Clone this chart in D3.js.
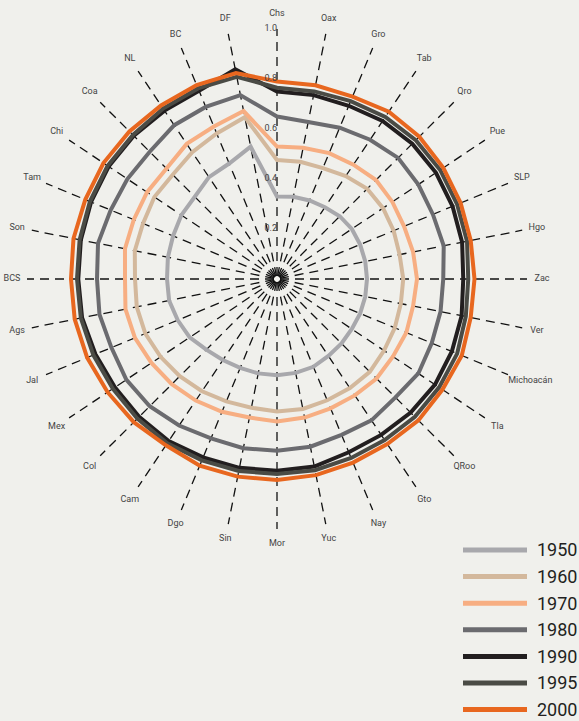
<!DOCTYPE html>
<html>
<head>
<meta charset="utf-8">
<script src="https://cdn.jsdelivr.net/npm/d3@7"></script>
<style>
  body { margin: 0; background: #f0f0ec; }
  svg { display: block; }
</style>
</head>
<body>
<div id="main"></div>
<script>
// states, clockwise from the top
const states = ["Chs", "Oax", "Gro", "Tab", "Qro", "Pue", "SLP", "Hgo", "Zac", "Ver", "Michoacán", "Tla",
    "QRoo", "Gto", "Nay", "Yuc", "Mor", "Sin", "Dgo", "Cam", "Col", "Mex", "Jal", "Ags",
    "BCS", "Son", "Tam", "Chi", "Coa", "NL", "BC", "DF"];
const years = ["1950", "1960", "1970", "1980", "1990", "1995", "2000"];
const ticks = [0.2, 0.4, 0.6, 0.8, 1.0];

const v1950 = [.33, .335, .34, .345, .355, .36, .36, .36, .36, .36, .36, .36, .365, .37, .38, .383,
    .385, .385, .385, .39, .40, .42, .43, .44, .44, .445, .45, .46, .465, .49, .50, .54];
const v1960 = [.476, .478, .48, .495, .51, .51, .505, .50, .505, .505, .51, .515, .525, .525, .525, .53,
    .53, .525, .53, .54, .55, .56, .57, .572, .568, .58, .58, .59, .59, .61, .63, .66];
const v1970 = [.53, .535, .545, .55, .56, .555, .55, .555, .56, .555, .56, .558, .563, .56, .56, .565,
    .57, .565, .575, .585, .595, .604, .615, .618, .608, .62, .62, .625, .625, .65, .66, .685];
const v1980 = [.65, .64, .655, .67, .685, .68, .675, .68, .665, .667, .67, .68, .67, .68, .675, .684,
    .687, .69, .69, .705, .72, .725, .717, .724, .72, .73, .72, .72, .72, .74, .745, .75];
const v1990 = [.75, .75, .75, .76, .765, .765, .76, .755, .745, .753, .757, .76, .756, .75, .75, .765,
    .767, .77, .772, .78, .78, .78, .786, .795, .795, .80, .805, .81, .81, .81, .815, .855];
const v1995 = [.765, .765, .77, .78, .785, .785, .78, .775, .765, .77, .78, .78, .78, .775, .775, .78,
    .78, .783, .785, .79, .79, .79, .795, .80, .80, .805, .81, .815, .815, .82, .825, .825];
const v2000 = [.79, .79, .79, .805, .805, .80, .795, .79, .79, .79, .80, .796, .80, .794, .795, .80,
    .804, .806, .808, .80, .81, .815, .822, .825, .824, .83, .83, .835, .835, .835, .84, .84];

const series = [v1950, v1960, v1970, v1980, v1990, v1995, v2000];
const colors = ["#a8a8ac", "#d3b89c", "#f7ae82", "#6b6b6f", "#221e1f", "#4a4b45", "#e8671f"];

const width = 579, height = 721;
const cx = 277, cy = 279;

let svg = d3.select("#main").append("svg")
    .attr("width", width)
    .attr("height", height);

let scaleR = d3.scaleLinear().domain([0, 1]).range([0, 250]);
let scaleA = d3.scaleLinear().domain([0, states.length]).range([0, 2 * Math.PI]);

let g = svg.append("g").attr("transform", `translate(${cx},${cy})`);

// spokes
g.selectAll(".spoke")
    .data(states)
    .join("line")
    .attr("class", "spoke")
    .attr("x1", (d, i) => Math.sin(scaleA(i)) * 3)
    .attr("y1", (d, i) => -Math.cos(scaleA(i)) * 3)
    .attr("x2", (d, i) => Math.sin(scaleA(i)) * scaleR(1))
    .attr("y2", (d, i) => -Math.cos(scaleA(i)) * scaleR(1))
    .attr("stroke", "#111")
    .attr("stroke-width", 1.3)
    .attr("stroke-dasharray", "9,6");

// state labels
g.selectAll(".lab")
    .data(states)
    .join("text")
    .attr("class", "lab")
    .attr("font-family", "Roboto, sans-serif")
    .attr("font-size", 9)
    .attr("fill", "#444")
    .attr("text-anchor", "middle")
    .attr("dominant-baseline", "middle")
    .text(d => d)
    .each(function (d, i) {
        let a = scaleA(i);
        let w = this.getComputedTextLength();
        let extra = Math.max(0, (w - 26) / 2) * Math.sign(Math.sin(a)) * Math.abs(Math.sin(a));
        d3.select(this)
            .attr("x", Math.sin(a) * 265 + extra)
            .attr("y", -Math.cos(a) * 265);
    });

// series
let line = d3.lineRadial()
    .angle((d, i) => scaleA(i))
    .radius(d => scaleR(d))
    .curve(d3.curveLinearClosed);

g.selectAll(".serie")
    .data(series)
    .join("path")
    .attr("class", "serie")
    .attr("d", line)
    .attr("fill", "none")
    .attr("stroke", (d, i) => colors[i])
    .attr("stroke-width", 4)
    .attr("stroke-linejoin", "miter");

// radial tick labels along the Chs spoke
g.selectAll(".tick")
    .data(ticks)
    .join("text")
    .attr("class", "tick")
    .attr("x", 0)
    .attr("y", d => -scaleR(d))
    .attr("font-family", "Roboto, sans-serif")
    .attr("font-size", 9)
    .attr("fill", "#444")
    .attr("text-anchor", "end")
    .attr("dominant-baseline", "middle")
    .text(d => d3.format(".1f")(d));

// centre dot
g.append("circle").attr("r", 2.5).attr("fill", "#f4f4f0");

// legend
let legend = svg.append("g").attr("transform", "translate(463,550)");
let item = legend.selectAll(".item")
    .data(years)
    .join("g")
    .attr("class", "item")
    .attr("transform", (d, i) => `translate(0,${i * 26.6})`);
item.append("line")
    .attr("x1", 0).attr("x2", 64)
    .attr("stroke", (d, i) => colors[i])
    .attr("stroke-width", 5);
item.append("text")
    .attr("x", 74)
    .attr("dy", "0.35em")
    .attr("font-family", "Roboto, sans-serif")
    .attr("font-size", 18)
    .attr("fill", "#231f20")
    .text(d => d);
</script>
</body>
</html>
